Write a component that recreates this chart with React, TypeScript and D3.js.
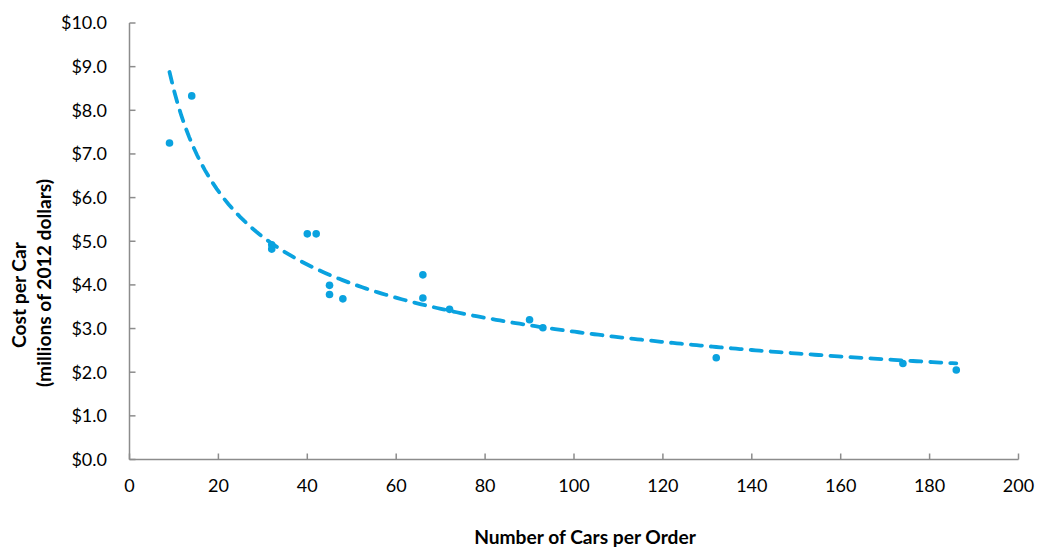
import React from "react";
import * as d3 from "d3";

const carsPerOrder = [9, 14, 32, 32, 40, 42, 45, 45, 48, 66, 66, 72, 90, 93, 132, 174, 186];
const costPerCar = [7.25, 8.33, 4.92, 4.82, 5.17, 5.17, 3.99, 3.78, 3.68, 4.23, 3.7, 3.44, 3.2, 3.02, 2.33, 2.2, 2.05];
const xTicks = [0, 20, 40, 60, 80, 100, 120, 140, 160, 180, 200];
const yTicks = [0, 1, 2, 3, 4, 5, 6, 7, 8, 9, 10];

const W = 1037;
const H = 548;
const left = 129.5;
const right = 1018.5;
const top = 23;
const bottom = 459.5;
const BLUE = "#0AA2DF";
const AXIS = "#8C8C8C";
const FONT = "Lato, 'Open Sans', sans-serif";

export default function App() {
  const x = d3.scaleLinear().domain([0, 200]).range([left, right]);
  const y = d3.scaleLinear().domain([0, 10]).range([bottom, top]);

  // power trendline fit (least squares in log-log space)
  const lx = carsPerOrder.map(Math.log);
  const ly = costPerCar.map(Math.log);
  const mx = d3.mean(lx)!;
  const my = d3.mean(ly)!;
  let sxy = 0, sxx = 0;
  lx.forEach((v, i) => { sxy += (v - mx) * (ly[i] - my); sxx += (v - mx) * (v - mx); });
  const b = sxy / sxx;
  const a = Math.exp(my - b * mx);
  const xmin = d3.min(carsPerOrder)!;
  const xmax = d3.max(carsPerOrder)!;
  const trendX = d3.range(0, 201).map((i) => xmin + ((xmax - xmin) * i) / 200);
  const line = d3.line<number>().x((d) => x(d)).y((d) => y(a * Math.pow(d, b)));

  return (
    <svg width={W} height={H} style={{ display: "block", position: "absolute", left: 0, top: 0 }} fontFamily={FONT}>
      <rect width={W} height={H} fill="#fff" />
      <line x1={left} y1={top} x2={left} y2={bottom} stroke={AXIS} strokeWidth={1.5} />
      <line x1={left} y1={bottom} x2={right} y2={bottom} stroke={AXIS} strokeWidth={1.5} />
      {yTicks.map((t) => (
        <g key={"y" + t}>
          <line x1={left} x2={left + 6} y1={y(t)} y2={y(t)} stroke={AXIS} strokeWidth={1.5} />
          <text x={107} y={y(t)} dy="0.35em" textAnchor="end" fontSize={18} fill="#000">
            {"$" + t.toFixed(1)}
          </text>
        </g>
      ))}
      {xTicks.map((t) => (
        <g key={"x" + t}>
          <line x1={x(t)} x2={x(t)} y1={bottom} y2={bottom - 6} stroke={AXIS} strokeWidth={1.5} />
          <text x={x(t)} y={486} dy="0.35em" textAnchor="middle" fontSize={18} fill="#000">
            {t}
          </text>
        </g>
      ))}
      <text x={585} y={537} dy="0.35em" textAnchor="middle" fontSize={19.2} fontWeight="bold" fill="#000">
        Number of Cars per Order
      </text>
      <g transform="rotate(-90)">
        <text x={-295} y={19} dy="0.35em" textAnchor="middle" fontSize={19.2} fontWeight="bold" fill="#000">
          Cost per Car
        </text>
        <text x={-283} y={44} dy="0.35em" textAnchor="middle" fontSize={19.2} fontWeight="bold" fill="#000">
          (millions of 2012 dollars)
        </text>
      </g>
      {carsPerOrder.map((c, i) => (
        <circle key={"p" + i} cx={x(c)} cy={y(costPerCar[i])} r={3.8} fill={BLUE} />
      ))}
      <path d={line(trendX)!} fill="none" stroke={BLUE} strokeWidth={3.8} strokeDasharray="11 9" strokeLinecap="round" />
    </svg>
  );
}
